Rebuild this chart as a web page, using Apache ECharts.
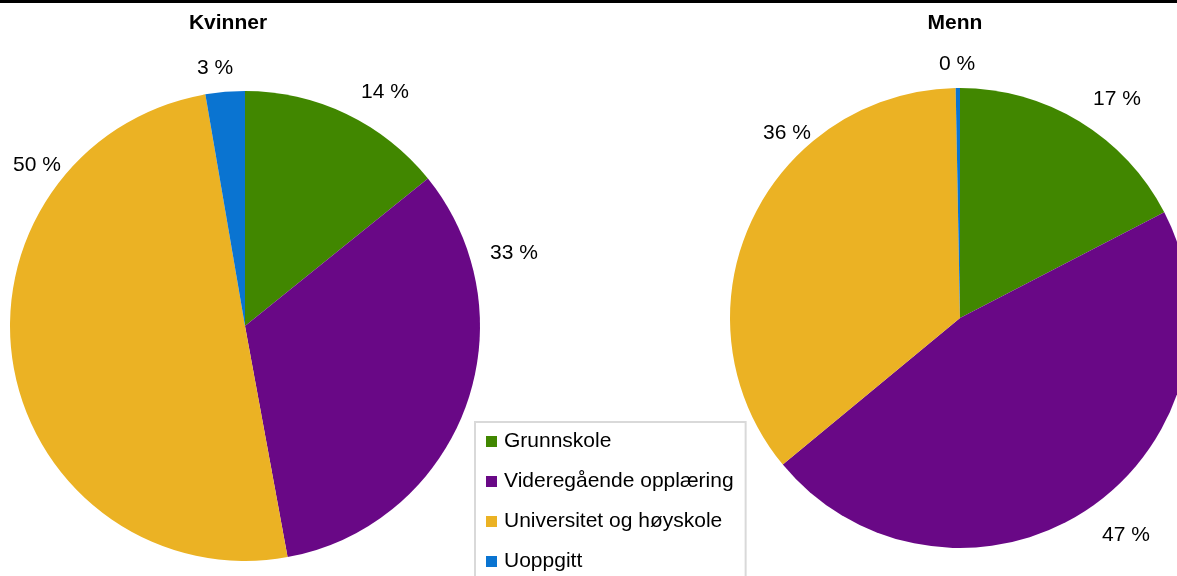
<!DOCTYPE html>
<html>
<head>
<meta charset="utf-8">
<script src="https://cdn.jsdelivr.net/npm/echarts@6/dist/echarts.min.js"></script>
<style>
	html, body { margin: 0; padding: 0; background: #fff; }
	#chart { width: 1177px; height: 576px; }
</style>
</head>
<body>
<div id="chart"></div>
<script>
	// kategorier og verdier (prosent)
	var categories = ["Grunnskole", "Videregående opplæring", "Universitet og høyskole", "Uoppgitt"];
	var kvinner = [14.2, 32.9, 50.2, 2.7];
	var menn = [17.4, 46.6, 35.7, 0.3];
	var colors = ["#418700", "#690886", "#ebb224", "#0a74d1"];

	// etikettplassering (senter av teksten), som i originalen
	var labelPos = [
		[[385, 92], [514, 253], [37, 165], [215, 68]],
		[[1117, 99], [1126, 535], [787, 133], [957, 64]]
	];

	var font = "'Liberation Sans', Arial, sans-serif";

	function toData(values) {
		return values.map(function(v, i) {
			return { name: categories[i], value: v };
		});
	}

	function pieSeries(name, values, center, radius) {
		return {
			type: "pie",
			name: name,
			center: center,
			radius: radius,
			startAngle: 90,
			clockwise: true,
			silent: true,
			avoidLabelOverlap: false,
			emphasis: { disabled: true },
			itemStyle: { borderWidth: 0 },
			label: {
				show: true,
				position: "outside",
				fontSize: 21,
				fontFamily: font,
				color: "#000",
				formatter: function(p) {
					return Math.round(p.percent) + " %";
				}
			},
			labelLine: { show: false },
			labelLayout: function(params) {
				var pos = labelPos[params.seriesIndex][params.dataIndex];
				return { x: pos[0], y: pos[1], align: "center", verticalAlign: "middle" };
			},
			data: toData(values)
		};
	}

	var chart = echarts.init(document.getElementById("chart"));
	chart.setOption({
		animation: false,
		color: colors,
		textStyle: { fontFamily: font },
		title: [{
			text: "Kvinner",
			left: 228,
			top: 13,
			padding: 0,
			textAlign: "center",
			textStyle: { fontSize: 21, fontWeight: "bold", color: "#000", fontFamily: font }
		}, {
			text: "Menn",
			left: 955,
			top: 13,
			padding: 0,
			textAlign: "center",
			textStyle: { fontSize: 21, fontWeight: "bold", color: "#000", fontFamily: font }
		}],
		legend: {
			orient: "vertical",
			left: 475,
			top: 422,
			height: 300,
			icon: "rect",
			itemWidth: 11,
			itemHeight: 11,
			itemGap: 19,
			padding: [9, 12, 9, 11],
			borderColor: "#d9d9d9",
			borderWidth: 2,
			selectedMode: false,
			textStyle: { fontSize: 21, color: "#000", fontFamily: font, padding: [0, 0, 0, 2] },
			data: categories
		},
		graphic: [{
			type: "rect",
			left: 0,
			top: 0,
			shape: { width: 1177, height: 3 },
			style: { fill: "#000" }
		}],
		series: [
			pieSeries("Kvinner", kvinner, [245, 326], 235),
			pieSeries("Menn", menn, [960, 318], 230)
		]
	});
</script>
</body>
</html>
